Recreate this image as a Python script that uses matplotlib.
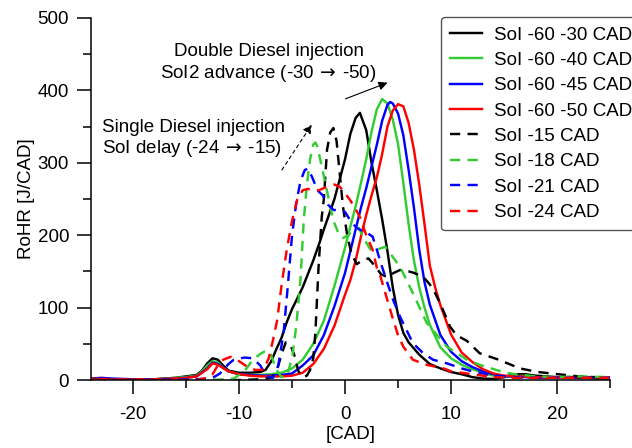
import matplotlib
matplotlib.use("Agg")
import matplotlib.pyplot as plt
from matplotlib.ticker import MultipleLocator

plt.rcParams['font.family'] = ['Liberation Sans', 'DejaVu Sans']
plt.rcParams['mathtext.fontset'] = 'dejavusans'
plt.rcParams['axes.unicode_minus'] = False

# --- data (CAD, J/CAD) ---
x_s30 = [-24, -22, -20, -18, -16, -15, -14, -13.5, -13, -12.5, -12, -11.5, -11, -10, -9, -8, -7.5, -7,
         -6.5, -6, -5.5, -5, -4, -3, -2.4, -2, -1, 0, 0.5, 1, 1.4, 2, 2.5, 3, 3.5, 4, 4.5, 5, 5.5, 6, 7,
         8, 9, 10, 11, 12, 13, 14, 15, 16, 17, 18, 20, 22, 25]
y_s30 = [2, 1, 1, 1, 3, 5, 7, 13, 23, 30, 28, 20, 13, 10, 10, 11, 14, 25, 42, 58, 80, 98, 128, 165, 190,
         208, 250, 305, 340, 362, 369, 345, 300, 262, 222, 178, 128, 90, 65, 52, 35, 22, 16, 11, 8, 4, 2,
         1.5, 4, 8, 8, 6, 4, 3, 2]

x_s40 = [-24, -22, -20, -18, -16, -15, -14, -13.5, -13, -12.5, -12, -11.5, -11, -10, -9, -8, -7, -6, -5,
         -4, -3, -2, -1, 0, 0.5, 1, 1.5, 2, 2.5, 3, 3.5, 4, 4.5, 5, 5.5, 6, 6.5, 7, 7.5, 8, 9, 10, 11, 12,
         13, 14, 15, 16, 17, 18, 20, 22, 23, 25]
y_s40 = [2, 1, 1, 1, 3, 4, 6, 12, 20, 26, 24, 17, 12, 8, 7, 7, 8, 10, 16, 28, 50, 82, 130, 183, 212, 240,
         272, 305, 343, 374, 388, 382, 360, 326, 272, 215, 165, 128, 100, 76, 45, 30, 21, 15, 10, 6, 4,
         5, 6, 4, 3, 5, 4, 3]

x_s45 = [-24, -23, -22, -20, -18, -16, -15, -14, -13, -12.5, -12, -11, -10, -9, -8, -7, -6, -5, -4, -3,
         -2, -1, 0, 0.5, 1, 1.5, 2, 2.5, 3, 3.5, 4, 4.25, 4.5, 5, 5.5, 6, 6.5, 7, 7.5, 8, 9, 10, 11, 12,
         13, 14, 15, 16, 18, 20, 22, 25]
y_s45 = [2, 3, 2, 1, 1, 2, 3, 5, 16, 24, 22, 12, 8, 7, 6, 6, 7, 9, 20, 34, 62, 102, 148, 178, 208, 238,
         265, 295, 325, 358, 380, 384, 382, 368, 338, 290, 238, 180, 135, 104, 62, 39, 26, 18, 12, 8, 5,
         5, 3, 3, 4, 3]

x_s50 = [-24, -22, -20, -18, -16, -15, -14, -13, -12.5, -12, -11, -10, -9, -8, -7, -6, -5, -4, -3, -2,
         -1, 0, 0.5, 1, 1.5, 2, 2.5, 3, 3.5, 4, 4.5, 5, 5.5, 6, 6.5, 7, 7.5, 8, 8.5, 9, 10, 11, 12, 13,
         14, 15, 16, 18, 20, 22, 25]
y_s50 = [2, 1, 1, 1, 2, 3, 5, 15, 23, 21, 12, 8, 6, 5, 5, 5, 6, 10, 22, 43, 75, 118, 138, 165, 198, 228,
         255, 280, 312, 350, 372, 381, 378, 355, 318, 270, 215, 158, 128, 103, 63, 38, 25, 15, 9, 6, 5,
         4, 3, 4, 3]

x_d15 = [-24, -20, -15, -10, -8, -7, -6.5, -6, -5.6, -5.2, -4.8, -4.4, -4, -3.6, -3.3, -3, -2.8, -2.5,
         -2.2, -2, -1.7, -1.4, -1.1, -0.8, -0.5, -0.2, 0.2, 0.6, 1.1, 1.6, 2.2, 2.8, 3.4, 4, 4.6, 5.2, 6,
         6.5, 7.4, 8, 8.5, 9, 9.9, 10.5, 11.5, 12.7, 14.5, 16.5, 18.2, 20.1, 22, 25]
y_d15 = [0, 0, 0, 0, 1, 3, 10, 35, 52, 50, 35, 12, 4, 6, 14, 30, 65, 156, 225, 250, 318, 342, 348, 330,
         285, 240, 200, 175, 160, 165, 168, 158, 146, 142, 148, 152, 150, 148, 142, 132, 120, 105, 74, 62,
         54, 37, 28, 16, 11, 8, 5, 3]

x_d18 = [-24, -12, -10.5, -9.5, -8.7, -8, -7.4, -7, -6.5, -6, -5.5, -5, -4.6, -4.2, -3.9, -3.6, -3.3, -3,
         -2.8, -2.6, -2.2, -1.8, -1.4, -1.1, -0.6, -0.2, 0.3, 0.8, 1.3, 1.8, 2.4, 3, 3.8, 4.4, 5.2, 6.4,
         7.7, 9.6, 11.5, 12.7, 14.9, 16, 18, 20, 22, 25]
y_d18 = [0, 0, 2, 12, 28, 36, 41, 35, 15, 4, 5, 30, 75, 140, 220, 270, 305, 325, 328, 322, 295, 268, 240,
         220, 202, 196, 200, 208, 210, 195, 180, 180, 184, 172, 156, 120, 79, 46, 28, 21, 11, 8, 5, 4, 5, 4]

x_d21 = [-24, -14, -12.5, -11.8, -11, -10.5, -9.5, -8.7, -8, -7.4, -6.8, -6.3, -5.8, -5.4, -5, -4.6, -4.2,
         -3.8, -3.5, -3.1, -2.6, -2.1, -1.6, -1.1, -0.5, 0, 0.6, 1.1, 1.6, 2.1, 2.6, 3, 3.3, 3.9, 4.5, 5.2,
         6.4, 7.3, 8.3, 9.6, 11, 12, 13, 14, 16, 18, 20, 22, 25]
y_d21 = [0, 1, 3, 9, 22, 28, 31, 30, 20, 5, 3, 20, 65, 130, 200, 245, 275, 290, 292, 280, 262, 255, 242,
         235, 234, 232, 218, 210, 206, 203, 198, 180, 165, 138, 112, 87, 51, 38, 28, 23, 16, 12, 9, 6, 4,
         3, 3, 3, 3]

x_d24 = [-24, -14, -13, -12.5, -12.1, -11.5, -10.8, -10.2, -9.2, -8.5, -7.7, -7.2, -6.8, -6.4, -6, -5.5,
         -5, -4.5, -4, -3.5, -3, -2.5, -2, -1.5, -1, -0.5, 0, 0.5, 1, 1.4, 2, 2.6, 3, 3.3, 3.9, 4.5, 5,
         5.5, 6.4, 7.7, 9.3, 10, 11, 12, 14, 16, 20, 25]
y_d24 = [0, 0, 3, 8, 18, 28, 32, 28, 18, 14, 14, 30, 55, 83, 130, 180, 220, 250, 262, 264, 262, 262, 265,
         268, 270, 267, 258, 248, 236, 225, 200, 180, 155, 145, 115, 85, 62, 46, 28, 21, 16, 12, 10, 8,
         4, 3, 3, 3]

labels = ['SoI -60 -30 CAD', 'SoI -60 -40 CAD', 'SoI -60 -45 CAD', 'SoI -60 -50 CAD',
          'SoI -15 CAD', 'SoI -18 CAD', 'SoI -21 CAD', 'SoI -24 CAD']
series = [(x_s30, y_s30), (x_s40, y_s40), (x_s45, y_s45), (x_s50, y_s50),
          (x_d15, y_d15), (x_d18, y_d18), (x_d21, y_d21), (x_d24, y_d24)]
colors = ['black', '#33cc33', '#0000ff', '#ff0000'] * 2
dashed = [False] * 4 + [True] * 4

fig = plt.figure(figsize=(6.32, 4.48), dpi=100)
ax = fig.add_axes([90.7 / 632, 1 - 380 / 448, (610 - 90.7) / 632, (380 - 18) / 448])

for (xs, ys), lab, c, d in zip(series, labels, colors, dashed):
    if d:
        ax.plot(xs, ys, color=c, lw=1.75, dashes=(4.2, 3.0), label=lab)
    else:
        ax.plot(xs, ys, color=c, lw=1.75, label=lab)

ax.set_xlim(-24, 25)
ax.set_ylim(0, 500)
ax.xaxis.set_major_locator(MultipleLocator(10))
ax.xaxis.set_minor_locator(MultipleLocator(5))
ax.yaxis.set_major_locator(MultipleLocator(100))
ax.yaxis.set_minor_locator(MultipleLocator(50))
for s in ['top', 'right']:
    ax.spines[s].set_visible(False)
for s in ['left', 'bottom']:
    ax.spines[s].set_linewidth(1.1)
ax.tick_params(which='major', length=10, width=1.1, labelsize=13.5)
ax.tick_params(which='minor', length=5.5, width=1.1)
ax.tick_params(axis='x', which='major', pad=8.5)
ax.tick_params(axis='y', which='major', pad=5.5)
ax.set_xlabel('[CAD]', fontsize=13.5, labelpad=2.5)
ax.set_ylabel('RoHR [J/CAD]', fontsize=13.5, labelpad=2)

ax.text(-7.2, 437, 'Double Diesel injection\nSoI2 advance (-30$\\,\\rightarrow\\,$-50)', ha='center',
        va='center', fontsize=13.5, linespacing=1.15)
ax.annotate('', xy=(4.25, 412), xytext=(-0.2, 387),
            arrowprops=dict(arrowstyle='-|>', color='black', lw=0.8, mutation_scale=13))
ax.text(-22.9, 333, 'Single Diesel injection\nSoI delay (-24$\\,\\rightarrow\\,$-15)', ha='left',
        va='center', fontsize=13.5, linespacing=1.15)
ax.annotate('', xy=(-3.0, 356), xytext=(-6.1, 287),
            arrowprops=dict(arrowstyle='-|>', color='black', lw=0.8, mutation_scale=13,
                            linestyle=(0, (3, 3))))

leg = fig.legend(loc='upper left', bbox_to_anchor=(441 / 632, 1 - 17 / 448), fontsize=13.5,
                 borderaxespad=0, handlelength=1.7, handletextpad=0.6, labelspacing=0.44,
                 borderpad=0.5, fancybox=True, framealpha=1)
leg.get_frame().set_edgecolor('#555555')
leg.get_frame().set_linewidth(1.0)

fig.savefig('out.png', dpi=100)
